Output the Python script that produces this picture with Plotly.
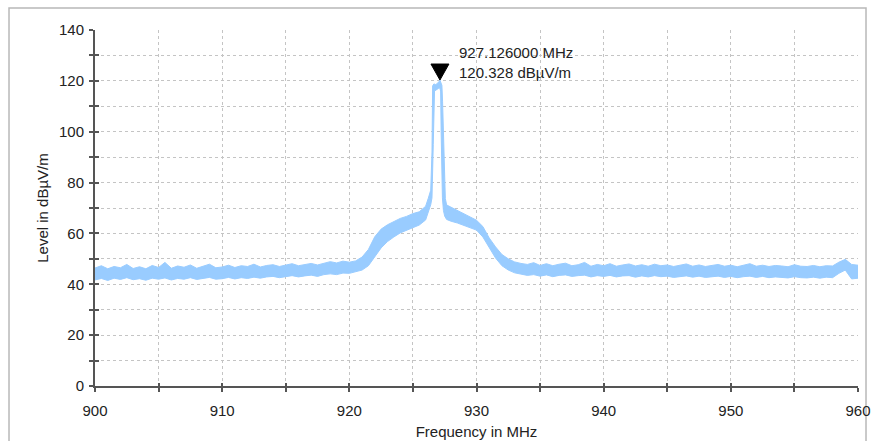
import plotly.graph_objects as go

# ---- data ----
freq_upper = [
    900, 900.5, 901, 901.5, 902, 902.5, 903, 903.5, 904, 904.5, 905, 905.5, 906, 906.5, 907, 907.5,
    908, 908.5, 909, 909.5, 910, 910.5, 911, 911.5, 912, 912.5, 913, 913.5, 914, 914.5, 915, 915.5,
    916, 916.5, 917, 917.5, 918, 918.5, 919, 919.5, 920, 920.5, 921, 921.5, 922, 922.5, 923, 923.5,
    924, 924.5, 925, 925.5, 926, 926.2, 926.4, 926.5, 926.55, 926.65, 926.8, 926.95, 927.05, 927.126,
    927.2, 927.28, 927.33, 927.38, 927.42, 927.47, 927.55, 927.65, 928, 928.5, 929, 929.5, 930, 930.5,
    931, 931.5, 932, 932.5, 933, 933.5, 934, 934.5, 935, 935.5, 936, 936.5, 937, 937.5, 938, 938.5,
    939, 939.5, 940, 940.5, 941, 941.5, 942, 942.5, 943, 943.5, 944, 944.5, 945, 945.5, 946, 946.5,
    947, 947.5, 948, 948.5, 949, 949.5, 950, 950.5, 951, 951.5, 952, 952.5, 953, 953.5, 954, 954.5,
    955, 955.5, 956, 956.5, 957, 957.5, 958, 958.5, 959, 959.5, 960,
]
level_upper = [
    46.4, 47.3, 46.1, 47.0, 46.5, 47.8, 46.2, 46.9, 46.1, 47.4, 46.6, 48.6, 46.3, 47.2, 46.7, 47.6,
    46.3, 47.1, 47.9, 46.5, 46.8, 47.5, 46.6, 47.3, 47.0, 47.9, 46.8, 47.4, 47.7, 47.0, 47.5, 48.1,
    47.3, 47.9, 48.2, 47.6, 48.3, 48.9, 48.4, 49.1, 48.7, 49.2, 50.7, 53.7, 58.7, 61.7, 63.4, 64.7,
    65.9, 66.7, 67.8, 68.5, 70.7, 73.7, 77.0, 92.0, 118.0, 118.8, 118.5, 119.2, 119.6, 120.328,
    119.4, 118.2, 112.0, 102.0, 88.0, 78.0, 73.7, 71.2, 70.3, 69.3, 67.8, 66.5, 65.2, 62.7,
    58.2, 54.7, 51.7, 50.0, 48.8, 48.2, 47.8, 48.5, 47.4, 48.1, 47.3, 47.9, 48.3, 47.3, 47.7, 48.6,
    47.1, 47.8, 47.3, 48.1, 47.1, 47.6, 48.0, 47.2, 47.7, 47.1, 47.9, 47.3, 47.6, 47.0, 47.5, 48.0,
    47.1, 47.6, 47.0, 47.4, 47.8, 47.1, 47.5, 46.9, 47.4, 48.1, 47.1, 47.5, 47.0, 47.4, 47.2, 46.9,
    47.7, 47.1, 47.0, 47.4, 46.9, 47.3, 47.2, 48.7, 49.8, 47.8, 47.5,
]
freq_lower = [
    900, 900.5, 901, 901.5, 902, 902.5, 903, 903.5, 904, 904.5, 905, 905.5, 906, 906.5, 907, 907.5,
    908, 908.5, 909, 909.5, 910, 910.5, 911, 911.5, 912, 912.5, 913, 913.5, 914, 914.5, 915, 915.5,
    916, 916.5, 917, 917.5, 918, 918.5, 919, 919.5, 920, 920.5, 921, 921.5, 922, 922.5, 923, 923.5,
    924, 924.5, 925, 925.5, 926, 926.2, 926.4, 926.5, 926.6, 926.7, 926.85, 927.0, 927.1, 927.18,
    927.22, 927.27, 927.32, 927.4, 927.5, 927.65, 928, 928.5, 929, 929.5, 930, 930.5, 931, 931.5,
    932, 932.5, 933, 933.5, 934, 934.5, 935, 935.5, 936, 936.5, 937, 937.5, 938, 938.5, 939, 939.5,
    940, 940.5, 941, 941.5, 942, 942.5, 943, 943.5, 944, 944.5, 945, 945.5, 946, 946.5, 947, 947.5,
    948, 948.5, 949, 949.5, 950, 950.5, 951, 951.5, 952, 952.5, 953, 953.5, 954, 954.5, 955, 955.5,
    956, 956.5, 957, 957.5, 958, 958.5, 959, 959.5, 960,
]
level_lower = [
    41.7, 42.3, 41.5, 42.4, 41.9, 42.6, 41.8, 42.2, 41.6, 42.4, 42.0, 42.5, 41.7, 42.3, 42.0, 42.6,
    41.9, 42.4, 42.7, 42.0, 42.2, 42.7, 42.1, 42.6, 42.3, 42.8, 42.4, 42.9, 43.1, 42.6, 43.0, 43.4,
    42.9, 43.3, 43.6, 43.1, 43.8, 44.1, 43.8, 44.4, 44.3, 44.8, 45.6, 47.3, 50.8, 54.3, 56.8, 58.6,
    60.2, 61.1, 62.2, 63.3, 65.3, 68.1, 71.3, 74.0, 95.0, 116.0, 116.5, 117.0, 117.3, 116.0,
    100.0, 84.0, 74.0, 69.0, 66.8, 65.5, 64.8, 64.1, 63.0, 62.3, 61.3, 58.6, 54.3, 50.3,
    47.3, 45.6, 44.5, 43.9, 43.5, 43.8, 43.2, 43.7, 43.0, 43.5, 43.7, 43.1, 43.4, 43.6, 42.9, 43.4,
    43.1, 43.5, 42.9, 43.3, 43.4, 42.8, 43.3, 42.9, 43.4, 43.0, 43.2, 42.7, 43.1, 43.3, 42.8, 43.2,
    42.7, 43.0, 43.2, 42.7, 43.1, 42.6, 43.0, 43.2, 42.7, 43.1, 42.6, 42.9, 42.8, 42.5, 43.0, 42.6,
    42.5, 42.8, 42.4, 42.8, 42.6, 44.3, 45.6, 42.1, 42.4,
]

peak_freq = 927.126
peak_level = 120.328
peak_text = "927.126000 MHz<br>120.328 dBµV/m"

x_ticks = [900, 905, 910, 915, 920, 925, 930, 935, 940, 945, 950, 955, 960]
x_labels = ["900", "", "910", "", "920", "", "930", "", "940", "", "950", "", "960"]
y_ticks = [0, 10, 20, 30, 40, 50, 60, 70, 80, 90, 100, 110, 120, 130, 140]
y_labels = ["0", "", "20", "", "40", "", "60", "", "80", "", "100", "", "120", "", "140"]

TRACE = "#99CCFF"
AXIS = "#555555"
GRID = "#c4c4c4"
FONT = "Liberation Sans, Arial, sans-serif"
FS = 15

fig = go.Figure()

poly_x = freq_upper + freq_lower[::-1]
poly_y = level_upper + level_lower[::-1]
fig.add_trace(go.Scatter(
    x=poly_x, y=poly_y, mode="lines", fill="toself",
    fillcolor=TRACE, line=dict(color=TRACE, width=1),
    hoverinfo="skip", showlegend=False,
))
# invisible trace for the overlay axes (crossing ticks)
fig.add_trace(go.Scatter(x=[None], y=[None], xaxis="x2", yaxis="y2",
                         showlegend=False, hoverinfo="skip"))

fig.update_layout(
    width=876, height=441,
    margin=dict(l=95, r=18, t=30, b=55, autoexpand=False),
    paper_bgcolor="white", plot_bgcolor="white",
    font=dict(family=FONT, size=FS, color="#222222"),
    xaxis=dict(
        range=[900, 960], tickmode="array", tickvals=x_ticks, ticktext=x_labels,
        ticks="outside", ticklen=4, tickwidth=1.5, tickcolor=AXIS,
        showline=True, linecolor=AXIS, linewidth=2,
        showgrid=True, gridcolor=GRID, griddash="dot", gridwidth=1,
        zeroline=False, ticklabelstandoff=6, automargin=False,
        title=dict(text="Frequency in MHz", standoff=8, font=dict(size=FS)),
    ),
    yaxis=dict(
        range=[0, 140], tickmode="array", tickvals=y_ticks, ticktext=y_labels,
        ticks="outside", ticklen=4, tickwidth=1.5, tickcolor=AXIS,
        showline=True, linecolor=AXIS, linewidth=2,
        showgrid=True, gridcolor=GRID, griddash="dot", gridwidth=1,
        zeroline=False, ticklabelstandoff=2, automargin=False,
        title=dict(text="Level in dBµV/m", standoff=7, font=dict(size=FS)),
    ),
    xaxis2=dict(
        range=[900, 960], overlaying="x", anchor="y2", side="bottom",
        tickmode="array", tickvals=x_ticks, ticks="inside", ticklen=3,
        tickwidth=1.5, tickcolor=AXIS, showticklabels=False,
        showgrid=False, showline=False, zeroline=False, automargin=False,
    ),
    yaxis2=dict(
        range=[0, 140], overlaying="y", anchor="x2", side="left",
        tickmode="array", tickvals=y_ticks, ticks="inside", ticklen=4,
        tickwidth=1.5, tickcolor=AXIS, showticklabels=False,
        showgrid=False, showline=False, zeroline=False, automargin=False,
    ),
    shapes=[
        # outer frame of the figure
        dict(type="rect", xref="paper", yref="paper",
             x0=-0.1127, x1=1.0105, y0=-0.2, y1=1.0618,
             line=dict(color="#b8b8b8", width=1.5), fillcolor="rgba(0,0,0,0)",
             layer="below"),
        # peak marker (triangle pointing to the peak)
        dict(type="path", xref="x", yref="y",
             xsizemode="pixel", ysizemode="pixel",
             xanchor=peak_freq, yanchor=peak_level,
             path="M -9 16 L 9 16 L 0 0 Z",
             fillcolor="black", line=dict(color="black", width=1)),
    ],
    annotations=[
        dict(x=peak_freq, y=peak_level, xref="x", yref="y",
             text=peak_text, showarrow=False, align="left",
             xanchor="left", yanchor="bottom", xshift=17, yshift=-3,
             font=dict(family=FONT, size=FS, color="#222222")),
    ],
)

fig.write_html("out.html")
